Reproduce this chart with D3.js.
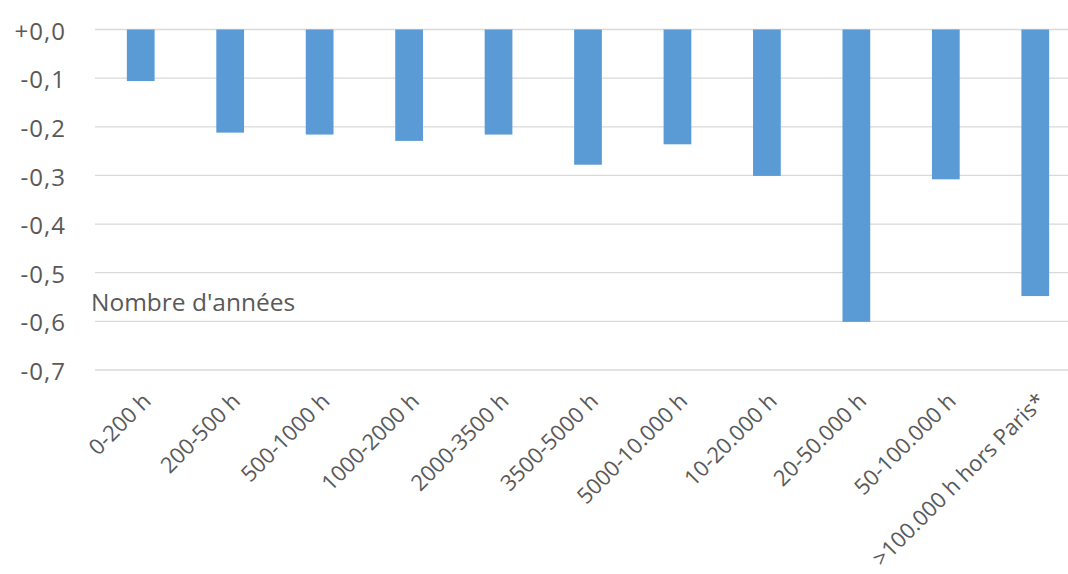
<!DOCTYPE html>
<html>
<head>
<meta charset="utf-8">
<script src="https://cdn.jsdelivr.net/npm/d3@7"></script>
<style>
  body { margin: 0; background: #fff; }
  text { font-family: "Open Sans", sans-serif; fill: #595959; }
</style>
</head>
<body>
<script>
const categories = ["0-200 h", "200-500 h", "500-1000 h", "1000-2000 h", "2000-3500 h", "3500-5000 h",
  "5000-10.000 h", "10-20.000 h", "20-50.000 h", "50-100.000 h", ">100.000 h hors Paris*"];
const values = [-0.106, -0.212, -0.216, -0.229, -0.216, -0.278, -0.236, -0.301, -0.601, -0.308, -0.548];
const yTicks = [0, -0.1, -0.2, -0.3, -0.4, -0.5, -0.6, -0.7];
const note = "Nombre d'années";

const W = 1068, H = 574;
const svg = d3.select("body").append("svg").attr("width", W).attr("height", H);

const x = d3.scaleBand().domain(categories).range([96, 1080]).paddingInner(0.69).paddingOuter(0.345);
const y = d3.scaleLinear().domain([-0.7, 0]).range([370, 29.5]);

// gridlines
svg.append("g").selectAll("line").data(yTicks).join("line")
  .attr("x1", 95).attr("x2", W)
  .attr("y1", d => y(d)).attr("y2", d => y(d))
  .attr("stroke", "#d9d9d9").attr("stroke-width", 1.3);

// y labels
const fmt = d => (d >= 0 ? "+" : "-") + Math.abs(d).toFixed(1).replace(".", ",");
svg.append("g").selectAll("text").data(yTicks).join("text")
  .attr("x", 66).attr("y", d => y(d)).attr("dy", "0.42em")
  .attr("text-anchor", "end").style("font-size", "24px").style("letter-spacing", "1px")
  .text(fmt);

// bars
svg.append("g").selectAll("rect").data(values).join("rect")
  .attr("x", (d, i) => x(categories[i]))
  .attr("width", x.bandwidth())
  .attr("y", y(0))
  .attr("height", d => y(d) - y(0))
  .attr("fill", "#5b9bd5");

// x labels
svg.append("g").selectAll("text").data(categories).join("text")
  .attr("transform", d => "translate(" + (x(d) + x.bandwidth() / 2 + 6) + ",397) rotate(-45)")
  .attr("text-anchor", "end").attr("dy", "0.35em")
  .style("font-size", "22px")
  .text(d => d);

svg.append("text").attr("x", 91).attr("y", 311)
  .style("font-size", "24.5px").text(note);
</script>
</body>
</html>
